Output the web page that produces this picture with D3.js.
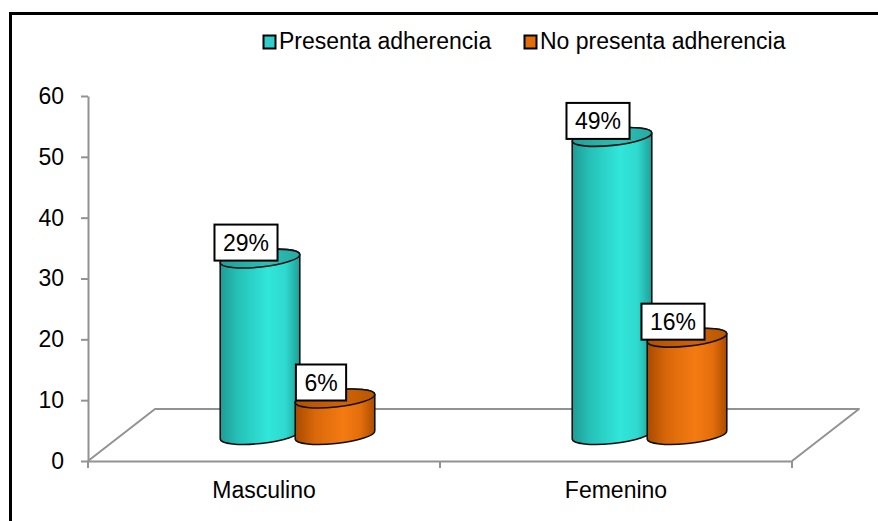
<!DOCTYPE html>
<html>
<head>
<meta charset="utf-8">
<script src="https://cdn.jsdelivr.net/npm/d3@7"></script>
<style>
  html, body { margin: 0; padding: 0; background: #fff; }
  svg { display: block; font-family: "Liberation Sans", Arial, sans-serif; }
</style>
</head>
<body>
<script>
// Adherence by sex (percent of patients)
const categories = ["Masculino", "Femenino"];
const seriesNames = ["Presenta adherencia", "No presenta adherencia"];
const presenta = [29, 49];
const noPresenta = [6, 16];
const yTicks = [0, 10, 20, 30, 40, 50, 60];

const seriesValues = [presenta, noPresenta];
const seriesKeys = ["presenta", "noPresenta"];

const W = 878, H = 521;
const svg = d3.select("body").append("svg").attr("width", W).attr("height", H);
svg.append("rect").attr("width", W).attr("height", H).attr("fill", "#fff");

// outer frame of the chart area
svg.append("rect")
  .attr("x", 10.5).attr("y", 13.5).attr("width", 900).attr("height", 600)
  .attr("fill", "none").attr("stroke", "#000").attr("stroke-width", 3);

const x0 = d3.scaleBand().domain(categories).range([88, 792]).padding(0);
const x1 = d3.scaleBand().domain(seriesKeys).range([101, 251]).padding(0);
const y = d3.scaleLinear().domain([0, 60]).range([461, 96]);

// oblique projection: floor depth and the depth where the columns stand
const back = { dx: 67, dy: -52 };
const mid = { dx: 33.5, dy: -26 };

const gray = "#929292";

// floor outline
const y0 = y(0);
const xL = x0.range()[0], xR = x0.range()[1];
svg.append("path")
  .attr("d", `M${xL},${y0} L${xL + back.dx},${y0 + back.dy} L${xR + back.dx},${y0 + back.dy} L${xR},${y0}`)
  .attr("fill", "none").attr("stroke", gray).attr("stroke-width", 2).attr("stroke-linejoin", "round");

// value axis
const yAxis = svg.append("g").attr("transform", `translate(${xL},0)`)
  .call(d3.axisLeft(y).tickValues(yTicks).tickSize(7).tickSizeOuter(0).tickPadding(17));
yAxis.select(".domain").attr("stroke", gray).attr("stroke-width", 2);
yAxis.selectAll(".tick line").attr("stroke", gray).attr("stroke-width", 2);
yAxis.selectAll(".tick text").attr("font-size", 23).attr("fill", "#000")
  .attr("font-family", "'Liberation Sans', Arial, sans-serif");

// category axis (front edge of the floor)
const xAxis = svg.append("g").attr("transform", `translate(0,${y0})`)
  .call(d3.axisBottom(x0).tickSize(0).tickPadding(21));
xAxis.select(".domain").attr("stroke", gray).attr("stroke-width", 2);
xAxis.selectAll(".tick text").attr("font-size", 23).attr("fill", "#000")
  .attr("font-family", "'Liberation Sans', Arial, sans-serif");
const bounds = categories.map(c => x0(c)).concat([xR]);
svg.append("g").selectAll("line").data(bounds).join("line")
  .attr("x1", d => d).attr("x2", d => d)
  .attr("y1", y0).attr("y2", y0 + 7)
  .attr("stroke", gray).attr("stroke-width", 2);

// gradients for cylinder bodies and tops
const defs = svg.append("defs");
const palette = {
  presenta: {
    body: [[0, "#1d9d96"], [0.22, "#26c0b7"], [0.6, "#31e6da"], [0.82, "#2fd9ce"], [1, "#1f9f98"]],
    top: [[0, "#229f98"], [0.6, "#2cc0b6"], [1, "#26aaa2"]],
    legend: "#33cccc"
  },
  noPresenta: {
    body: [[0, "#a84a00"], [0.25, "#d9680a"], [0.6, "#f57a12"], [0.82, "#e46e0c"], [1, "#ab4c00"]],
    top: [[0, "#b25200"], [0.6, "#cf6208"], [1, "#b95700"]],
    legend: "#e36c0a"
  }
};
Object.entries(palette).forEach(([k, p]) => {
  ["body", "top"].forEach(part => {
    const g = defs.append("linearGradient").attr("id", `${k}-${part}`)
      .attr("x1", 0).attr("x2", 1).attr("y1", 0).attr("y2", 0);
    p[part].forEach(([o, c]) => g.append("stop").attr("offset", o).attr("stop-color", c));
  });
});

// cylinders
const r = 40, ry = 8.5, rot = -6;
const th = rot * Math.PI / 180;
const ex = r * Math.cos(th), ey = r * Math.sin(th);

const cyl = [];
categories.forEach((c, i) => {
  seriesKeys.forEach((k, s) => {
    const v = seriesValues[s][i];
    cyl.push({
      key: k, value: v,
      cx: x0(c) + x1(k) + x1.bandwidth() / 2 + mid.dx,
      yb: y(0) + mid.dy,
      yt: y(v) + mid.dy
    });
  });
});

const cg = svg.append("g").selectAll("g").data(cyl).join("g");
cg.append("path")
  .attr("d", d => {
    const lx = d.cx - ex, rx = d.cx + ex;
    return `M${lx},${d.yt - ey} L${lx},${d.yb - ey} ` +
      `A${r},${ry} ${rot} 0 0 ${rx},${d.yb + ey} ` +
      `L${rx},${d.yt + ey} ` +
      `A${r},${ry} ${rot} 0 0 ${lx},${d.yt - ey} Z`;
  })
  .attr("fill", d => `url(#${d.key}-body)`)
  .attr("stroke", "#111").attr("stroke-width", 1.6).attr("stroke-linejoin", "round");
cg.append("ellipse")
  .attr("cx", 0).attr("cy", 0).attr("rx", r).attr("ry", ry)
  .attr("transform", d => `translate(${d.cx},${d.yt}) rotate(${rot})`)
  .attr("fill", d => `url(#${d.key}-top)`)
  .attr("stroke", "#111").attr("stroke-width", 1.6);

// value labels
const lg = svg.append("g").selectAll("g").data(cyl).join("g")
  .attr("transform", d => `translate(${d.cx - 14},${d.yt - 16})`);
const lt = lg.append("text")
  .attr("text-anchor", "middle").attr("dy", "0.36em")
  .attr("font-size", 23).attr("fill", "#000")
  .text(d => d.value + "%");
lg.insert("rect", "text")
  .each(function () {
    const w = this.parentNode.querySelector("text").getComputedTextLength() + 17;
    d3.select(this).attr("x", -w / 2).attr("width", w);
  })
  .attr("y", -18).attr("height", 36)
  .attr("fill", "#fff").attr("stroke", "#000").attr("stroke-width", 2);

// legend
const legendX = [263, 524];
const leg = svg.append("g").selectAll("g").data(seriesKeys).join("g")
  .attr("transform", (d, i) => `translate(${legendX[i]},35)`);
leg.append("rect").attr("x", 0.5).attr("y", 0.5).attr("width", 12).attr("height", 13)
  .attr("fill", d => palette[d].legend).attr("stroke", "#000").attr("stroke-width", 2);
leg.append("text").attr("x", 16).attr("y", 14)
  .attr("font-size", 23).attr("fill", "#000")
  .text((d, i) => seriesNames[i]);
</script>
</body>
</html>
